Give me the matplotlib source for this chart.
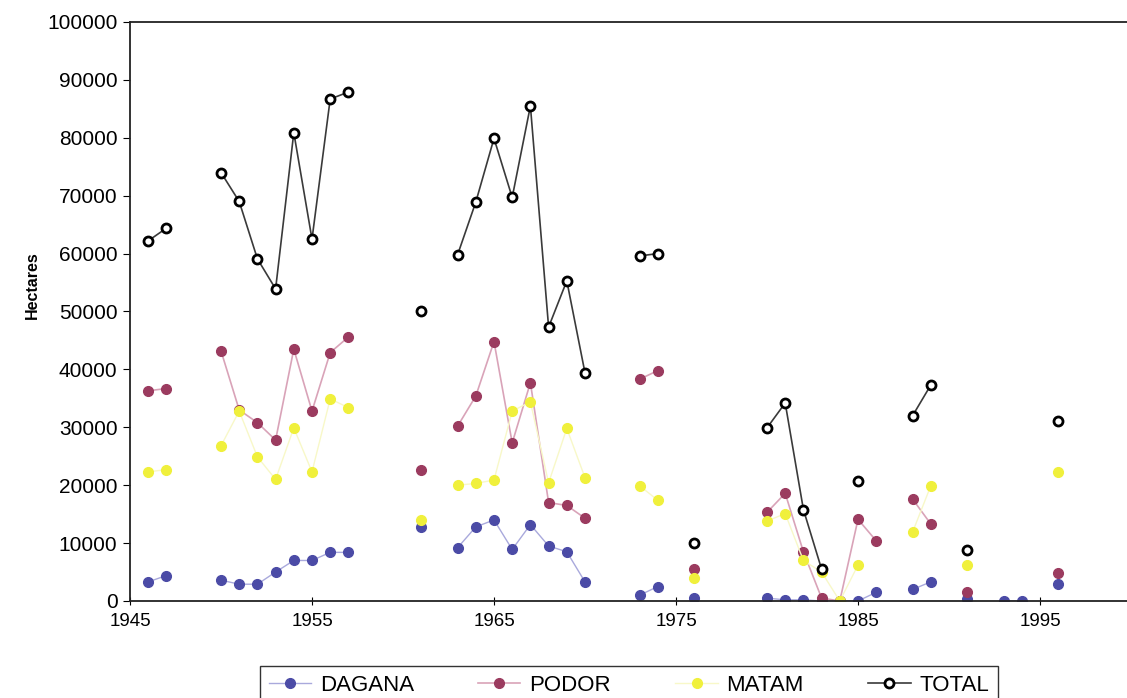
import numpy as np
import matplotlib.pyplot as plt

plt.rcParams['font.family'] = ['Liberation Sans', 'DejaVu Sans']

# superficies (hectares) par departement, annees avec donnees seulement
dagana_years = [1946, 1947, 1950, 1951, 1952, 1953, 1954, 1955, 1956, 1957, 1961,
                1963, 1964, 1965, 1966, 1967, 1968, 1969, 1970, 1973, 1974, 1976,
                1980, 1981, 1982, 1983, 1984, 1985, 1986, 1988, 1989, 1991, 1993, 1994, 1996]
dagana = [3300, 4400, 3600, 2900, 2900, 5000, 7000, 7000, 8400, 8400, 12800,
          9200, 12800, 14000, 8900, 13200, 9500, 8500, 3300, 1000, 2500, 500,
          500, 200, 200, 0, 0, 0, 1500, 2000, 3300, 300, 0, 0, 2900]

podor_years = [1946, 1947, 1950, 1951, 1952, 1953, 1954, 1955, 1956, 1957, 1961,
               1963, 1964, 1965, 1966, 1967, 1968, 1969, 1970, 1973, 1974, 1976,
               1980, 1981, 1982, 1983, 1984, 1985, 1986, 1988, 1989, 1991, 1996]
podor = [36300, 36700, 43200, 33000, 30800, 27800, 43500, 32800, 42900, 45600, 22600,
         30200, 35400, 44800, 27300, 37700, 17000, 16500, 14300, 38300, 39800, 5600,
         15300, 18600, 8500, 500, 0, 14100, 10400, 17600, 13300, 1600, 4800]

matam_years = [1946, 1947, 1950, 1951, 1952, 1953, 1954, 1955, 1956, 1957, 1961,
               1963, 1964, 1965, 1966, 1967, 1968, 1969, 1970, 1973, 1974, 1976,
               1980, 1981, 1982, 1983, 1984, 1985, 1988, 1989, 1991, 1996]
matam = [22300, 22700, 26800, 32800, 24900, 21000, 29900, 22300, 34900, 33400, 14000,
         20000, 20300, 20900, 32800, 34400, 20400, 29800, 21300, 19900, 17400, 3900,
         13800, 15100, 7000, 5000, 0, 6200, 11900, 19900, 6300, 22300]

total_years = [1946, 1947, 1950, 1951, 1952, 1953, 1954, 1955, 1956, 1957, 1961,
               1963, 1964, 1965, 1966, 1967, 1968, 1969, 1970, 1973, 1974, 1976,
               1980, 1981, 1982, 1983, 1985, 1988, 1989, 1991, 1996]
total = [62200, 64400, 74000, 69000, 59100, 53900, 80900, 62500, 86700, 87900, 50000,
         59800, 68900, 79900, 69700, 85500, 47300, 55300, 39400, 59600, 60000, 10100,
         29900, 34200, 15800, 5500, 20800, 32000, 37300, 8800, 31100]


def coupe(annees, valeurs):  # met un NaN quand il manque une annee -> la ligne s'arrete
    xs, ys = [], []
    for i in range(len(annees)):
        if i > 0 and annees[i] - annees[i - 1] > 1:
            xs.append(np.nan)
            ys.append(np.nan)
        xs.append(annees[i])
        ys.append(valeurs[i])
    return xs, ys


fig = plt.figure(figsize=(11.27, 6.98), dpi=100)
ax = fig.add_axes([130 / 1127, 1 - 601 / 698, 1001 / 1127, 579 / 698])

x, y = coupe(dagana_years, dagana)
ax.plot(x, y, color='#a9a9dc', lw=1, marker='o', ms=7, mfc='#4b4ba6', mec='#4b4ba6', label='DAGANA')
x, y = coupe(podor_years, podor)
ax.plot(x, y, color='#d9a3b8', lw=1.2, marker='o', ms=7, mfc='#9b3b5f', mec='#9b3b5f', label='PODOR')
x, y = coupe(matam_years, matam)
ax.plot(x, y, color='#f8f8c8', lw=1, marker='o', ms=7, mfc='#f0f03c', mec='#f0f03c', label='MATAM')
x, y = coupe(total_years, total)
ax.plot(x, y, color='#3a3a3a', lw=1.2, marker='o', ms=6.5, mfc='white', mec='black', mew=2, label='TOTAL')

ax.set_xlim(1945, 2000)
ax.set_ylim(0, 100000)
ax.set_xticks([1945, 1955, 1965, 1975, 1985, 1995])
ax.set_yticks(np.arange(0, 100001, 10000))
ax.tick_params(axis='x', direction='inout', length=6, labelsize=13.5, pad=6)
ax.tick_params(axis='y', direction='out', length=5, labelsize=15, pad=4)
for s in ax.spines.values():
    s.set_linewidth(1.3)
    s.set_color('#222222')

ax.set_ylabel('Hectares', fontsize=11.5, fontweight='bold')
ax.yaxis.set_label_coords(-0.09, 0.546)

fig.legend(loc='upper center', bbox_to_anchor=(0.558, 0.062), ncol=4, fontsize=16,
           frameon=True, fancybox=False, edgecolor='black', handlelength=1.9,
           columnspacing=2.9, borderpad=0.4, handletextpad=0.4)

fig.savefig('out.png', dpi=100)
